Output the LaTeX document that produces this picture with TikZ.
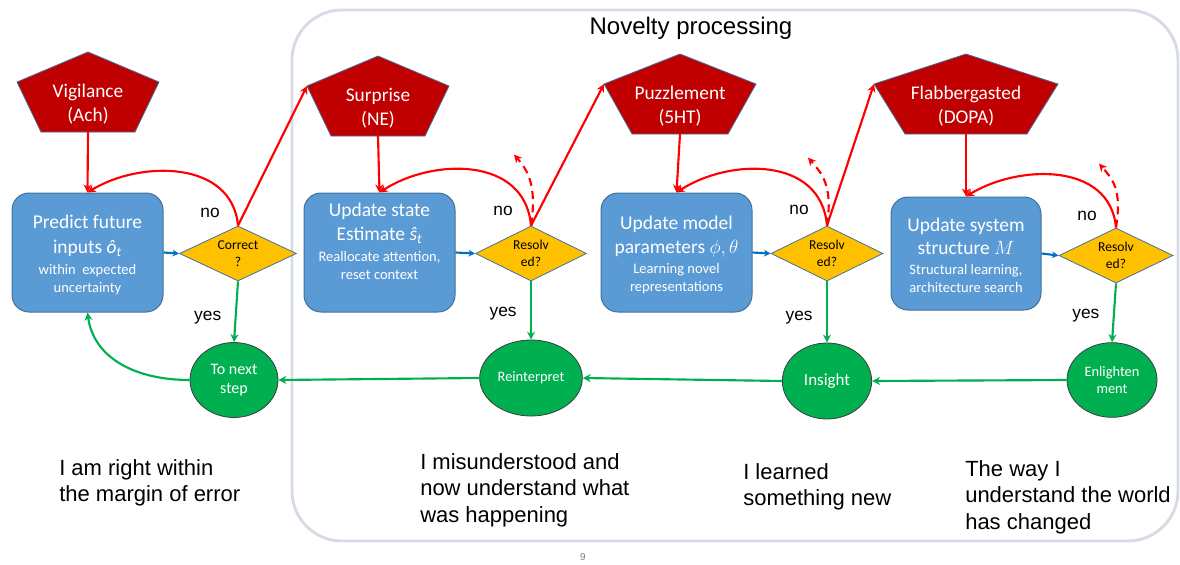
\documentclass[tikz,border=0pt]{standalone}
\usepackage{fontspec}
\setmainfont{Carlito}
\newfontfamily\arialfont{Liberation Sans}
\usetikzlibrary{shapes.geometric,arrows.meta}

\definecolor{modred}{RGB}{192,0,0}
\definecolor{boxblue}{RGB}{91,155,213}
\definecolor{boxedge}{RGB}{65,113,156}
\definecolor{qyellow}{RGB}{255,192,0}
\definecolor{okgreen}{RGB}{0,176,80}
\definecolor{ringgray}{RGB}{60,60,60}
\definecolor{arrowblue}{RGB}{0,112,192}
\definecolor{framegray}{RGB}{214,220,229}

\tikzset{
  pentshape/.style={fill=modred, draw=boxedge, line width=0.6pt},
  penttext/.style={text=white, align=center, font=\fontsize{14.5}{18}\selectfont, inner sep=0pt},
  stagebox/.style={rectangle, rounded corners=12.75pt, fill=boxblue, draw=boxedge, line width=0.75pt, inner sep=0pt},
  stagetext/.style={text=white, align=center, font=\fontsize{10.9}{13.5}\selectfont, inner sep=0pt},
  query/.style={diamond, aspect=2.1, fill=qyellow, draw=boxedge, line width=0.6pt, inner sep=0pt, minimum height=41.25pt, align=center, font=\fontsize{10.2}{12.5}\selectfont},
  outcome/.style={ellipse, fill=okgreen, draw=ringgray, line width=0.6pt, inner sep=0pt, text=white, align=center},
  redline/.style={draw=red, line width=1.6pt, -{Stealth[length=6pt,width=6pt]}},
  greenline/.style={draw=okgreen, line width=1.6pt, -{Stealth[length=6pt,width=6pt]}},
  blueline/.style={draw=arrowblue, line width=1.6pt, -{Stealth[length=5pt,width=5pt]}},
  lbl/.style={font=\arialfont\fontsize{13}{15}\selectfont, inner sep=0pt},
  remark/.style={font=\arialfont\fontsize{16.5}{19.9}\selectfont, align=left, inner sep=0pt, anchor=north west},
}

% name, centre x, apex y, shoulder half width, base half width, text
\newcommand{\modulator}[6]{%
  \draw[pentshape] (#2,#3) -- (#2+#4,#3+30) -- (#2+#5,#3+80) -- (#2-#5,#3+80) -- (#2-#4,#3+30) -- cycle;
  \node[penttext] (#1) at (#2,#3+52) {#6};
  \coordinate (#1-s) at (#2,#3+80);
  \coordinate (#1-w) at (#2-#4,#3+30);
}
\newcommand{\bigln}[1]{{\fontsize{14.6}{19.5}\selectfont #1}}

\begin{document}
\begin{tikzpicture}[x=0.75pt,y=0.75pt,yscale=-1,xscale=1]
\useasboundingbox (0,0) rectangle (1180,564);

\draw [draw=framegray, line width=2.2pt, rounded corners=37.5pt] (292,10) rectangle (1178,541);
\node [font=\arialfont\fontsize{18}{20}\selectfont] (title) at (691,28) {Novelty processing};

\modulator{vigil}{88}{52}{71}{47}{Vigilance\\(Ach)}
\modulator{surprise}{378}{56}{71}{47}{Surprise\\(NE)}
\modulator{puzzle}{680}{54}{76}{48}{Puzzlement\\(5HT)}
\modulator{flabber}{966}{54}{92}{61}{Flabbergasted\\(DOPA)}

\node [stagebox, minimum width=113.25pt, minimum height=89.25pt] (predict) at (87.5,252.5) {};
\node [stagebox, minimum width=113.25pt, minimum height=89.25pt] (state) at (379.5,252.5) {};
\node [stagebox, minimum width=113.25pt, minimum height=89.25pt] (model) at (676.5,252.5) {};
\node [stagebox, minimum width=112.5pt, minimum height=84.75pt] (system) at (966,253.5) {};

\node [stagetext] (predict-t) at (87.5,255) {\bigln{Predict future}\\[5pt]\bigln{inputs \textit{ô}\textsubscript{\textit{t}}}\\[2pt]within\ \ expected\\uncertainty};
\node [stagetext] (state-t) at (379.5,241) {\bigln{Update state}\\[5pt]\bigln{Estimate \textit{ŝ}\textsubscript{\textit{t}}}\\[2pt]Reallocate attention,\\reset context};
\node [stagetext] (model-t) at (676.5,254.5) {\bigln{Update model}\\[4.5pt]\bigln{parameters $\phi,\theta$}\\[1.5pt]Learning novel\\representations};
\node [stagetext] (system-t) at (966,255) {\bigln{Update system}\\[4pt]\bigln{structure $M$}\\[1.5pt]Structural learning,\\architecture search};

\node [query, minimum width=87.75pt] (correct) at (238,253.5) {Correct\\?};
\node [query, minimum width=83.25pt] (res1) at (531,253.5) {Resolv\\ed?};
\node [query, minimum width=84pt] (res2) at (827,253.5) {Resolv\\ed?};
\node [query, minimum width=85.5pt] (res3) at (1116,255.5) {Resolv\\ed?};

\node [outcome, minimum width=66pt, minimum height=56.25pt, font=\fontsize{12}{14.5}\selectfont] (next) at (234,380) {To next\\step};
\node [outcome, minimum width=77pt, minimum height=57pt, font=\fontsize{10.8}{13}\selectfont] (reinterp) at (531,378) {Reinterpret};
\node [outcome, minimum width=67pt, minimum height=57pt, font=\fontsize{12.7}{15}\selectfont] (insight) at (827,381) {Insight};
\node [outcome, minimum width=67.5pt, minimum height=56pt, font=\fontsize{10.8}{13}\selectfont] (enlight) at (1112,380) {Enlighten\\ment};

% modulators drive the stages
\draw [redline] (vigil-s) -- (predict.north);
\draw [redline] (surprise-s) -- (state.north);
\draw [redline] (puzzle-s) -- (model.north);
\draw [redline] (flabber-s) -- (system.north);

% no: loop back, escalate
\draw [redline] (correct.north) .. controls +(-6,-66) and +(52,-32) .. (predict.north);
\draw [redline] (res1.north) .. controls +(-6,-70) and +(52,-34) .. (state.north);
\draw [redline] (res2.north) .. controls +(-6,-70) and +(52,-34) .. (model.north);
\draw [redline] (res3.north) .. controls +(-6,-66) and +(52,-32) .. (system.north);
\draw [redline] (correct.north) -- (surprise-w);
\draw [redline] (res1.north) -- (puzzle-w);
\draw [redline] (res2.north) -- (flabber-w);

\path (res1.north) ++(-17,-71) coordinate (res1-up);
\path (res2.north) ++(-19,-68) coordinate (res2-up);
\path (res3.north) ++(-17,-64) coordinate (res3-up);
\draw [redline, dash pattern=on 6pt off 4pt] (res1.north) .. controls +(6,-40) and +(14,16) .. (res1-up);
\draw [redline, dash pattern=on 6pt off 4pt] (res2.north) .. controls +(6,-40) and +(14,16) .. (res2-up);
\draw [redline, dash pattern=on 6pt off 4pt] (res3.north) .. controls +(6,-38) and +(14,16) .. (res3-up);

\draw [blueline] (predict.east) -- (correct.west);
\draw [blueline] (state.east) -- (res1.west);
\draw [blueline] (model.east) -- (res2.west);
\draw [blueline] (system.east) -- (res3.west);

% yes: resolved
\draw [greenline] (correct.south) -- node[lbl, left=10pt, pos=0.6] (yes1) {yes} (next.north);
\draw [greenline] (res1.south) -- node[lbl, left=10pt, pos=0.55] (yes2) {yes} (reinterp.north);
\draw [greenline] (res2.south) -- node[lbl, left=10pt, pos=0.6] (yes3) {yes} (insight.north);
\draw [greenline] (res3.south) -- node[lbl, left=10pt, pos=0.55] (yes4) {yes} (enlight.north);
\draw [greenline] (enlight.west) -- (insight.east);
\draw [greenline] (insight.west) -- (reinterp.east);
\draw [greenline] (reinterp.west) -- (next.east);
\draw [greenline] (next.west) .. controls +(-55,0) and +(6,45) .. (predict.south);

\node [lbl] (no1) at ([shift={(-28,-13)}]correct.north) {no};
\node [lbl] (no2) at ([shift={(-28,-15)}]res1.north) {no};
\node [lbl] (no3) at ([shift={(-28,-16)}]res2.north) {no};
\node [lbl] (no4) at ([shift={(-29,-12)}]res3.north) {no};

\node [remark] (rm1) at (59,459) {I am right within\\the margin of error};
\node [remark] (rm2) at (420,453) {I misunderstood and\\now understand what\\was happening};
\node [remark] (rm3) at (743,463) {I learned\\something new};
\node [remark] (rm4) at (965,460) {The way I\\understand the world\\has changed};

\node [font=\arialfont\fontsize{7.5}{9}\selectfont, text=gray] (pagenum) at (583,557) {9};

\end{tikzpicture}
\end{document}
